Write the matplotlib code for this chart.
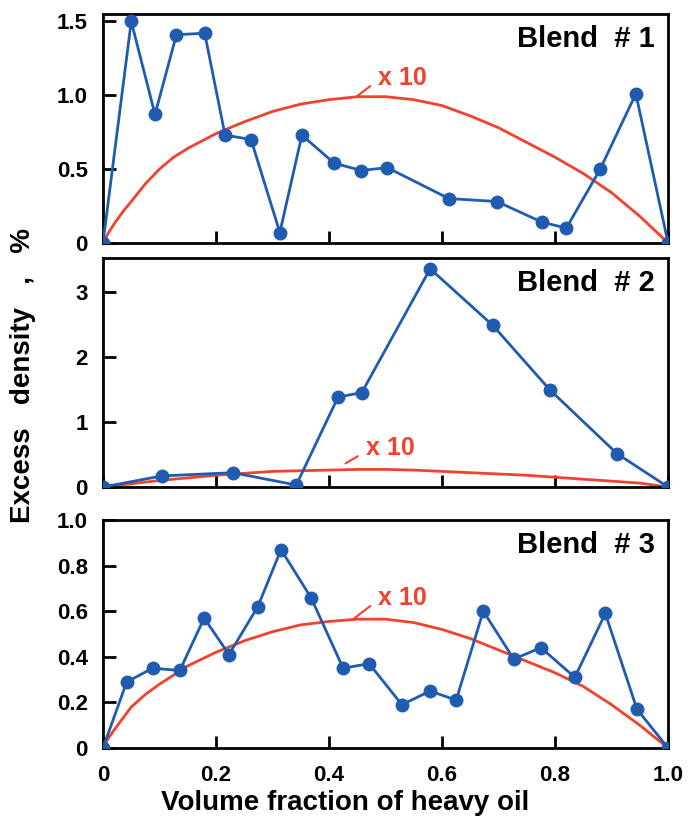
import numpy as np
import matplotlib.pyplot as plt

plt.rcParams['font.family'] = ['Liberation Sans', 'DejaVu Sans']
plt.rcParams['font.weight'] = 'bold'

# Blend #1
x1 = [0, 0.05, 0.092, 0.13, 0.18, 0.216, 0.262, 0.313, 0.352, 0.409, 0.457,
      0.503, 0.612, 0.697, 0.777, 0.82, 0.88, 0.943, 1.0]
y1 = [0, 1.50, 0.87, 1.41, 1.42, 0.73, 0.70, 0.07, 0.73, 0.54, 0.49,
      0.51, 0.30, 0.28, 0.14, 0.10, 0.50, 1.01, 0]
rx1 = [0, 0.01, 0.02, 0.035, 0.05, 0.075, 0.1, 0.125, 0.15, 0.2, 0.25, 0.3, 0.35, 0.4, 0.45, 0.5,
       0.55, 0.6, 0.65, 0.7, 0.75, 0.8, 0.85, 0.9, 0.95, 1.0]
ry1 = [0, 0.07, 0.13, 0.21, 0.28, 0.40, 0.50, 0.58, 0.64, 0.74, 0.82, 0.89, 0.94, 0.97, 0.99, 0.99,
       0.97, 0.93, 0.86, 0.78, 0.68, 0.58, 0.47, 0.34, 0.18, 0]

# Blend #2
x2 = [0, 0.104, 0.23, 0.342, 0.416, 0.458, 0.579, 0.69, 0.791, 0.91, 1.0]
y2 = [0, 0.17, 0.22, 0.03, 1.38, 1.45, 3.35, 2.48, 1.49, 0.51, 0]
rx2 = [0, 0.05, 0.1, 0.15, 0.2, 0.25, 0.3, 0.35, 0.4, 0.45, 0.5,
       0.55, 0.6, 0.65, 0.7, 0.75, 0.8, 0.85, 0.9, 0.95, 1.0]
ry2 = [0, 0.05, 0.10, 0.14, 0.18, 0.21, 0.24, 0.25, 0.26, 0.27, 0.27,
       0.26, 0.24, 0.22, 0.20, 0.18, 0.15, 0.12, 0.09, 0.06, 0]

# Blend #3
x3 = [0, 0.042, 0.088, 0.136, 0.179, 0.223, 0.274, 0.315, 0.368, 0.425, 0.471,
      0.529, 0.579, 0.625, 0.673, 0.727, 0.775, 0.835, 0.889, 0.945, 1.0]
y3 = [0, 0.29, 0.35, 0.34, 0.57, 0.41, 0.62, 0.87, 0.66, 0.35, 0.37,
      0.19, 0.25, 0.21, 0.60, 0.39, 0.44, 0.31, 0.59, 0.17, 0]
rx3 = [0, 0.01, 0.02, 0.035, 0.05, 0.075, 0.1, 0.15, 0.2, 0.25, 0.3, 0.35, 0.4, 0.45, 0.5,
       0.55, 0.6, 0.65, 0.7, 0.75, 0.8, 0.85, 0.9, 0.95, 1.0]
ry3 = [0, 0.045, 0.08, 0.13, 0.18, 0.235, 0.28, 0.36, 0.42, 0.47, 0.51, 0.54, 0.555, 0.565, 0.565,
       0.55, 0.52, 0.48, 0.43, 0.38, 0.33, 0.27, 0.19, 0.10, 0]

panels = [
    (x1, y1, rx1, ry1, 'Blend  # 1', (0, 1.55), [0, 0.5, 1.0, 1.5], ['0', '0.5', '1.0', '1.5'], (0.487, 1.12), (0.445, 0.98)),
    (x2, y2, rx2, ry2, 'Blend  # 2', (0, 3.52), [0, 1, 2, 3], ['0', '1', '2', '3'], (0.465, 0.60), (0.425, 0.34)),
    (x3, y3, rx3, ry3, 'Blend  # 3', (0, 1.0), [0, 0.2, 0.4, 0.6, 0.8, 1.0], ['0', '0.2', '0.4', '0.6', '0.8', '1.0'], (0.487, 0.66), (0.44, 0.56)),
]

blue = '#1f5cb0'
red = '#f2412e'

fig = plt.figure(figsize=(6.88, 8.26), dpi=100)
boxes = [(0.706, 0.983), (0.4104, 0.688), (0.0944, 0.3705)]
left, right = 0.1497, 0.971

for i, (px, py, rx, ry, name, ylim, yt, ytl, lab, tip) in enumerate(panels):
    b, t = boxes[i]
    ax = fig.add_axes([left, b, right - left, t - b])
    ax.plot(rx, ry, color=red, lw=2.0, zorder=2)
    ax.plot(px, py, color=blue, lw=2.0, marker='o', ms=9, zorder=3)
    ax.set_xlim(0, 1.0)
    ax.set_ylim(*ylim)
    ax.set_yticks(yt)
    ax.set_yticklabels(ytl)
    ax.set_xticks([0, 0.2, 0.4, 0.6, 0.8, 1.0])
    if i == 2:
        ax.set_xticklabels(['0', '0.2', '0.4', '0.6', '0.8', '1.0'])
    else:
        ax.set_xticklabels([])
    ax.tick_params(direction='in', length=9, width=2, labelsize=16, pad=11)
    ax.tick_params(axis='x', pad=12)
    for s in ax.spines.values():
        s.set_linewidth(2)
    ax.text(0.977, 0.95, name, transform=ax.transAxes, ha='right', va='top',
            fontsize=21, fontweight='bold')
    ax.text(lab[0], lab[1], 'x 10', color=red, fontsize=18, fontweight='bold',
            va='center', ha='left')
    # little leader from label to curve
    ax.annotate('', xy=tip, xytext=(lab[0] - 0.01, lab[1] - (ylim[1] * 0.03)),
                arrowprops=dict(arrowstyle='-', color=red, lw=1.5))

fig.text(0.5015, 0.012, 'Volume fraction of heavy oil', ha='center', va='bottom',
         fontsize=20, fontweight='bold')
fig.text(0.033, 0.545, 'Excess   density   ,   %', rotation=90, ha='center', va='center',
         fontsize=20, fontweight='bold')

fig.savefig('out.png', dpi=100)
